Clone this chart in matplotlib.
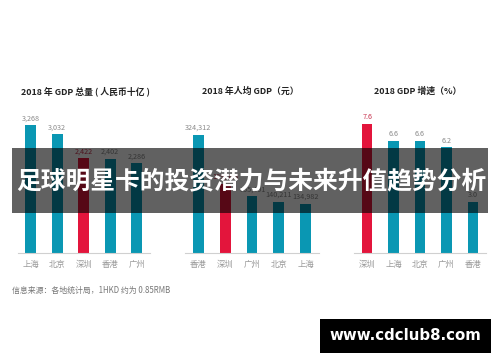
import matplotlib
matplotlib.use("Agg")
import matplotlib.pyplot as plt
from matplotlib.patches import Rectangle

plt.rcParams['font.family'] = ['Noto Sans CJK SC', 'DejaVu Sans']

W, H = 500, 362

# data
gdp_cities = ['上海', '北京', '深圳', '香港', '广州']
gdp_values = [3268, 3032, 2422, 2402, 2286]
gdp_labels = ['3,268', '3,032', '2,422', '2,402', '2,286']

pc_cities = ['香港', '深圳', '广州', '北京', '上海']
pc_values = [324312, 189568, 155491, 140211, 134982]
pc_labels = ['324,312', '189,568', '155,491', '140,211', '134,982']

growth_cities = ['深圳', '上海', '北京', '广州', '香港']
growth_values = [7.6, 6.6, 6.6, 6.2, 3.0]
growth_labels = ['7.6', '6.6', '6.6', '6.2', '3.0']

titles = ['2018 年 GDP 总量 ( 人民币十亿 )', '2018 年人均 GDP（元）', '2018 GDP 增速（%）']
banner = '足球明星卡的投资潜力与未来升值趋势分析'
source = '信息来源：各地统计局，1HKD 约为 0.85RMB'
site = 'www.cdclub8.com'

TEAL = '#0a97b3'
RED = '#e3153c'
GRAY = '#8a8a8a'


def px_axes(fig, x0, x1, ytop, ybot):
    return fig.add_axes([x0 / W, 1 - ybot / H, (x1 - x0) / W, (ybot - ytop) / H])


fig = plt.figure(figsize=(W / 100, H / 100), dpi=100)
fig.patch.set_facecolor('white')

panels = [
    (gdp_cities, gdp_values, gdp_labels, 17.5, 150, 3650),
    (pc_cities, pc_values, pc_labels, 185, 319, 392000),
    (growth_cities, growth_values, growth_labels, 354, 486, 8.4),
]
title_x = [85, 250, 418]

for i, (cities, vals, labs, x0, x1, ymax) in enumerate(panels):
    ax = px_axes(fig, x0, x1, 110, 253)
    colors = [RED if c == '深圳' else TEAL for c in cities]
    bars = ax.bar(range(len(cities)), vals, width=0.4, color=colors)
    for b, lab, c in zip(bars, labs, cities):
        ax.annotate(lab, (b.get_x() + b.get_width() / 2, b.get_height()),
                    xytext=(0, 2), textcoords='offset points', ha='center', va='bottom',
                    fontsize=5.2, color='#c8344f' if c == '深圳' else GRAY)
    ax.set_xlim(-0.5, len(cities) - 0.5)
    ax.set_ylim(0, ymax)
    ax.set_xticks(range(len(cities)))
    ax.set_xticklabels(cities, fontsize=6, color='#999999')
    ax.tick_params(axis='x', length=0, pad=5)
    ax.set_yticks([])
    for s in ['top', 'right', 'left']:
        ax.spines[s].set_visible(False)
    ax.spines['bottom'].set_color('#d0d0d0')
    ax.spines['bottom'].set_linewidth(0.8)
    ax.patch.set_alpha(0)
    fig.text(title_x[i] / W, 1 - 91 / H, titles[i], ha='center', va='center',
             fontsize=6.4, fontweight='bold', color='#222222')

# banner across the charts
fig.patches.append(Rectangle((12 / W, 1 - 213 / H), 476 / W, 65 / H, transform=fig.transFigure,
                             facecolor='black', alpha=0.62, edgecolor='none', zorder=5))
fig.text(251 / W, 1 - 181 / H, banner, ha='center', va='center', fontsize=17.8,
         fontweight='bold', color='white', zorder=6)

fig.text(12 / W, 1 - 290 / H, source, ha='left', va='center', fontsize=5.7, color='#777777')

fig.patches.append(Rectangle((320 / W, 1 - 353 / H), 171 / W, 34 / H, transform=fig.transFigure,
                             facecolor='black', edgecolor='none', zorder=5))
fig.text(405.5 / W, 1 - 336 / H, site, ha='center', va='center', fontsize=10.8,
         fontweight='bold', color='white', family=['DejaVu Sans'], zorder=6)

fig.savefig('out.png', dpi=100)
